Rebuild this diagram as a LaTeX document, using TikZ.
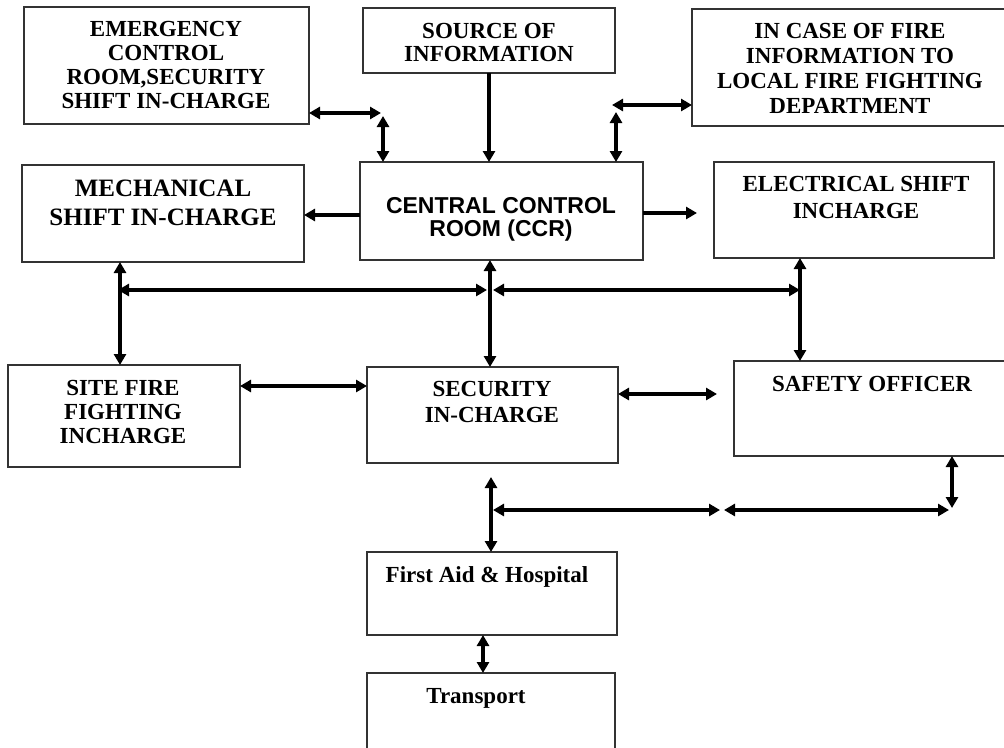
\documentclass[tikz,border=0pt]{standalone}
\usepackage{fontspec}
\setmainfont{Liberation Serif}
\newfontfamily\arialf{Liberation Sans}
\usetikzlibrary{arrows.meta}
\tikzset{
  box/.style={draw=black!80, line width=1.8pt, inner sep=0pt, outer sep=0pt, fill=none},
  lbl/.style={align=center, inner sep=0pt, font=\bfseries\fontsize{23}{24}\selectfont},
  dbl/.style={line width=3.2pt, {Triangle[length=11pt,width=12pt]}-{Triangle[length=11pt,width=12pt]}},
  sgl/.style={line width=3.2pt, -{Triangle[length=11pt,width=12pt]}},
}
\begin{document}
\begin{tikzpicture}[x=1pt,y=-1pt]
\useasboundingbox[fill=white] (0,0) rectangle (1004,747);
% boxes
\node[box, minimum width=285pt, minimum height=117pt] (b-emerg) at (166.5,65.5) {};
\node[box, minimum width=252pt, minimum height=65pt] (b-src) at (489,40.5) {};
\node[box, minimum width=318pt, minimum height=117pt] (b-fire) at (851,67.5) {};
\node[box, minimum width=282pt, minimum height=97pt] (b-mech) at (163,213.5) {};
\node[box, minimum width=283pt, minimum height=98pt] (b-ccr) at (501.5,211) {};
\node[box, minimum width=280pt, minimum height=96pt] (b-elec) at (854,210) {};
\node[box, minimum width=232pt, minimum height=102pt] (b-site) at (124,416) {};
\node[box, minimum width=251pt, minimum height=96pt] (b-sec) at (492.5,415) {};
\node[box, minimum width=276pt, minimum height=95pt] (b-safe) at (872,408.5) {};
\node[box, minimum width=250pt, minimum height=83pt] (b-first) at (492,593.5) {};
\node[box, minimum width=248pt, minimum height=97pt] (b-trans) at (491,721.5) {};
% texts
\node[lbl] (t-emerg) at (166,65) {EMERGENCY\\CONTROL\\ROOM,SECURITY\\SHIFT IN-CHARGE};
\node[lbl, font=\bfseries\fontsize{23}{23}\selectfont] (t-src) at (489,42) {SOURCE OF\\INFORMATION};
\node[lbl, font=\bfseries\fontsize{23}{25}\selectfont] (t-fire) at (850,68) {IN CASE OF FIRE\\INFORMATION TO\\LOCAL FIRE FIGHTING\\DEPARTMENT};
\node[lbl, font=\bfseries\fontsize{25}{29}\selectfont] (t-mech) at (163,203) {MECHANICAL\\SHIFT IN-CHARGE};
\node[lbl, font=\arialf\bfseries\fontsize{23}{23}\selectfont] (t-ccr) at (501,219) {CENTRAL CONTROL\\ROOM (CCR)};
\node[lbl, font=\bfseries\fontsize{23}{27}\selectfont] (t-elec) at (856,197) {ELECTRICAL SHIFT\\INCHARGE};
\node[lbl] (t-site) at (123,412) {SITE FIRE\\FIGHTING\\INCHARGE};
\node[lbl, font=\bfseries\fontsize{23}{26}\selectfont] (t-sec) at (492,402) {SECURITY\\IN-CHARGE};
\node[lbl] (t-safe) at (872,384) {SAFETY OFFICER};
\node[lbl] (t-first) at (487,577) {First Aid \& Hospital};
\node[lbl] (t-trans) at (476,698) {Transport};
% junction coordinates
\coordinate (j1) at (381,113);
\coordinate (j1v) at (383,116);
\coordinate (j2) at (612,105);
\coordinate (j2v) at (616,112);
\coordinate (k1) at (0,215);
\coordinate (k2) at (697,213);
\coordinate (s1) at (120,0);
\coordinate (h1) at (118,290);
\coordinate (h2) at (487,290);
\coordinate (h3) at (493,290);
\coordinate (h4) at (800,290);
\coordinate (v2) at (490,0);
\coordinate (v3) at (800,0);
\coordinate (r1) at (0,386);
\coordinate (r2) at (0,394);
\coordinate (r3) at (717,394);
\coordinate (v4) at (952,0);
\coordinate (q1) at (952,508);
\coordinate (g1) at (493,510);
\coordinate (g2) at (720,510);
\coordinate (g3) at (724,510);
\coordinate (g4) at (949,510);
\coordinate (u1) at (491,477);
\coordinate (w1) at (483,0);
% connectors
\draw[dbl] (b-emerg.east |- j1) -- (j1);
\draw[dbl] (j1v) -- (j1v |- b-ccr.north);
\draw[sgl] (b-src.south) -- (b-src.south |- b-ccr.north);
\draw[dbl] (j2) -- (j2 -| b-fire.west);
\draw[dbl] (j2v) -- (j2v |- b-ccr.north);
\draw[sgl] (b-ccr.west |- k1) -- (k1 -| b-mech.east);
\draw[sgl] (b-ccr.east |- k2) -- (k2);
\draw[dbl] (b-mech.south -| s1) -- (b-site.north -| s1);
\draw[dbl] (h1) -- (h2);
\draw[dbl] (h3) -- (h4);
\draw[dbl] (b-ccr.south -| v2) -- (b-sec.north -| v2);
\draw[dbl] (b-elec.south -| v3) -- (b-safe.north -| v3);
\draw[dbl] (b-site.east |- r1) -- (b-sec.west |- r1);
\draw[dbl] (b-sec.east |- r2) -- (r3);
\draw[dbl] (b-safe.south -| v4) -- (q1);
\draw[dbl] (g1) -- (g2);
\draw[dbl] (g3) -- (g4);
\draw[dbl] (u1) -- (u1 |- b-first.north);
\draw[dbl] (b-first.south -| w1) -- (b-trans.north -| w1);
\end{tikzpicture}
\end{document}
